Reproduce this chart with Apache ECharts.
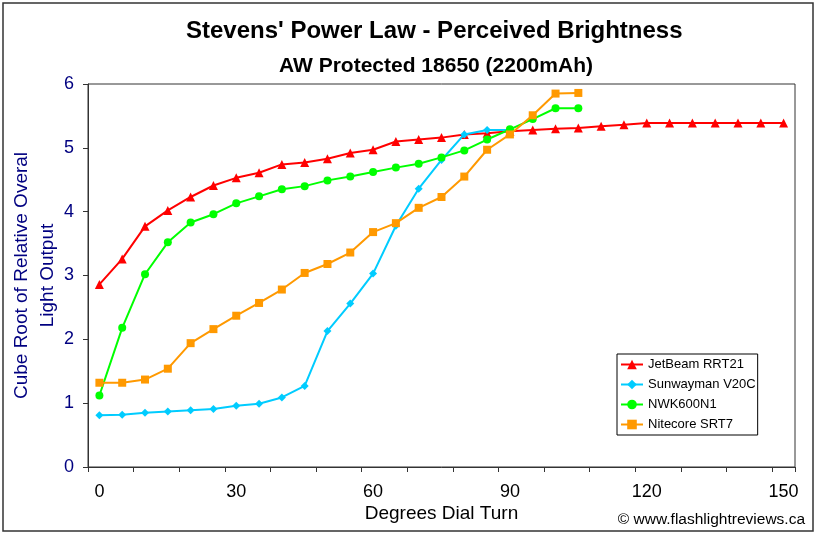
<!DOCTYPE html>
<html>
<head>
<meta charset="utf-8">
<script src="https://cdn.jsdelivr.net/npm/echarts@6/dist/echarts.min.js"></script>
<style>html,body{margin:0;padding:0;background:#fff}#c{width:817px;height:535px}</style>
</head>
<body>
<div id="c"></div>
<script>
var degrees = [0,5,10,15,20,25,30,35,40,45,50,55,60,65,70,75,80,85,90,95,100,105,110,115,120,125,130,135,140,145,150];
var jetbeam = [2.86,3.26,3.77,4.02,4.23,4.41,4.53,4.61,4.74,4.77,4.83,4.92,4.97,5.10,5.13,5.16,5.21,5.23,5.26,5.28,5.30,5.31,5.34,5.36,5.39,5.39,5.39,5.39,5.39,5.39,5.39];
var sunwayman = [0.81,0.82,0.85,0.87,0.89,0.91,0.96,0.99,1.09,1.27,2.13,2.56,3.03,3.78,4.36,4.81,5.21,5.28,5.28];
var nwk = [1.12,2.18,3.02,3.52,3.83,3.96,4.13,4.24,4.35,4.40,4.49,4.55,4.62,4.69,4.75,4.85,4.96,5.13,5.29,5.45,5.62,5.62];
var nitecore = [1.32,1.32,1.37,1.54,1.94,2.16,2.37,2.57,2.78,3.04,3.18,3.36,3.68,3.82,4.06,4.23,4.55,4.97,5.21,5.51,5.85,5.86];
var seriesNames = ['JetBeam RRT21','Sunwayman V20C','NWK600N1','Nitecore SRT7'];
var seriesColors = ['#FF0000','#00CCFF','#00FF00','#FF9900'];
var seriesSymbols = ['triangle','diamond','circle','rect'];
var seriesSizes = [9,8,8,8];
var seriesData = [jetbeam, sunwayman, nwk, nitecore];

var FONT = 'Liberation Sans, Arial, sans-serif';
var chart = echarts.init(document.getElementById('c'), null, {renderer:'canvas'});
var series = seriesData.map(function(d,i){
  return {
    name: seriesNames[i], type:'line', data:d,
    symbol: seriesSymbols[i], symbolSize: seriesSizes[i], showSymbol:true,
    itemStyle:{color:seriesColors[i]},
    lineStyle:{color:seriesColors[i], width:2},
    emphasis:{disabled:true}, animation:false, z: 2+i
  };
});
chart.setOption({
  animation:false,
  backgroundColor:'#fff',
  title:[
    {text:"Stevens' Power Law - Perceived Brightness", left:181, top:14,
     textStyle:{fontFamily:FONT, fontSize:24, fontWeight:'bold', color:'#000'}},
    {text:'AW Protected 18650 (2200mAh)', left:274, top:51,
     textStyle:{fontFamily:FONT, fontSize:21, fontWeight:'bold', color:'#000'}}
  ],
  grid:{left:88, right:22, top:84, bottom:68, containLabel:false, outerBoundsMode:'none',
        show:true, borderColor:'#333', borderWidth:1, backgroundColor:'transparent'},
  legend:{
    orient:'vertical', left:617, top:354, itemWidth:22, itemHeight:12, itemGap:7,
    padding:[4,2,4,3], borderColor:'#000', borderWidth:1, backgroundColor:'#fff',
    textStyle:{fontFamily:FONT, fontSize:13, color:'#000'},
    data: seriesNames
  },
  xAxis:{
    type:'category', data:degrees, boundaryGap:true,
    name:'Degrees Dial Turn', nameLocation:'middle', nameGap:37, nameMoveOverlap:false,
    nameTextStyle:{fontFamily:FONT, fontSize:19, color:'#000'},
    axisLine:{lineStyle:{color:'#333', width:1}},
    axisTick:{show:true, interval:1, length:5, lineStyle:{color:'#333'}},
    axisLabel:{interval:5, margin:16, fontFamily:FONT, fontSize:18, color:'#000'},
    splitLine:{show:false}
  },
  yAxis:{
    type:'value', min:0, max:6, interval:1,
    name:'Cube Root of Relative Overal\nLight Output', nameLocation:'middle', nameRotate:90, nameGap:27, nameMoveOverlap:false,
    nameTextStyle:{fontFamily:FONT, fontSize:19, color:'#000080', lineHeight:26},
    axisLine:{show:true, lineStyle:{color:'#333', width:1}},
    axisTick:{show:true, length:5, lineStyle:{color:'#333'}},
    axisLabel:{margin:14, fontFamily:FONT, fontSize:18, color:'#000080'},
    splitLine:{show:false}
  },
  graphic:[
    {type:'rect', shape:{x:3, y:3, width:810, height:528}, style:{fill:'none', stroke:'#333', lineWidth:1.5}, silent:true},
    {type:'text', right:12, top:512, style:{text:'\u00A9 www.flashlightreviews.ca', fontFamily:FONT, fontSize:15.5, fill:'#000'}}
  ],
  series: series
});
</script>
</body>
</html>
